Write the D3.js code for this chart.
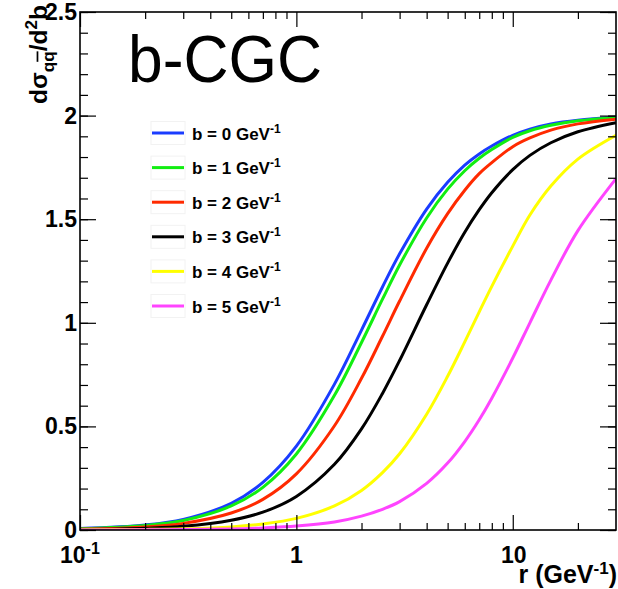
<!DOCTYPE html>
<html>
<head>
<meta charset="utf-8">
<script src="https://cdn.jsdelivr.net/npm/d3@7"></script>
<style>
  html, body { margin: 0; padding: 0; background: #fff; }
  svg { display: block; font-family: "Liberation Sans", Arial, Helvetica, sans-serif; }
</style>
</head>
<body>
<svg id="chart" width="618" height="589"></svg>
<script>
// ---- data ----
const rValues = [0.1, 0.2, 0.3, 0.5, 0.7, 1, 1.5, 2, 2.5, 3, 4, 5, 6, 7, 8, 10, 12, 15, 20, 30];
const bLabels = ["0", "1", "2", "3", "4", "5"];
const b0 = [0.007, 0.024, 0.051, 0.129, 0.230, 0.405, 0.704, 0.965, 1.173, 1.333, 1.549, 1.678, 1.761, 1.815, 1.853, 1.905, 1.935, 1.960, 1.978, 1.992];
const b1 = [0.006, 0.022, 0.046, 0.116, 0.206, 0.367, 0.650, 0.905, 1.114, 1.279, 1.506, 1.645, 1.734, 1.794, 1.836, 1.895, 1.927, 1.953, 1.975, 1.990];
const b2 = [0.004, 0.015, 0.032, 0.082, 0.148, 0.271, 0.503, 0.732, 0.935, 1.105, 1.360, 1.527, 1.640, 1.720, 1.773, 1.850, 1.892, 1.930, 1.960, 1.983];
const b3 = [0.002, 0.009, 0.018, 0.047, 0.086, 0.162, 0.317, 0.488, 0.659, 0.818, 1.087, 1.288, 1.437, 1.546, 1.628, 1.739, 1.808, 1.869, 1.922, 1.966];
const b4 = [0.001, 0.003, 0.006, 0.015, 0.029, 0.056, 0.116, 0.191, 0.277, 0.368, 0.559, 0.742, 0.908, 1.053, 1.176, 1.370, 1.520, 1.660, 1.790, 1.905];
const b5 = [0.000, 0.001, 0.002, 0.005, 0.010, 0.019, 0.039, 0.067, 0.100, 0.137, 0.225, 0.323, 0.427, 0.532, 0.636, 0.830, 1.000, 1.206, 1.445, 1.696];
const seriesValues = [b0, b1, b2, b3, b4, b5];
const seriesColors = ["#1a3cff", "#11ee11", "#ff2a00", "#000000", "#ffff00", "#ff44ff"];

const yMajorTicks = [0, 0.5, 1, 1.5, 2, 2.5];
const yTickLabels = ["0", "0.5", "1", "1.5", "2", "2.5"];
const xMajorTicks = [0.1, 1, 10];
const xMinorTicks = [0.2, 0.3, 0.4, 0.5, 0.6, 0.7, 0.8, 0.9, 2, 3, 4, 5, 6, 7, 8, 9, 20];
const yMinorTicks = d3.range(0, 26).map(i => i / 10);

// ---- layout ----
const L = 80, R = 616, T = 12, B = 530;
const svg = d3.select("#chart");

const x = d3.scaleLog().domain([0.1, 30]).range([L, R]);
const y = d3.scaleLinear().domain([0, 2.5]).range([B, T]);

// clip
svg.append("defs").append("clipPath").attr("id", "plotclip")
  .append("rect").attr("x", L).attr("y", T).attr("width", R - L).attr("height", B - T);

// curves
const line = d3.line()
  .x(d => x(d[0]))
  .y(d => y(d[1]))
  .curve(d3.curveCatmullRom.alpha(0.5));

const gCurves = svg.append("g").attr("clip-path", "url(#plotclip)");
seriesValues.forEach((vals, i) => {
  gCurves.append("path")
    .datum(rValues.map((r, k) => [r, vals[k]]))
    .attr("d", line)
    .attr("fill", "none")
    .attr("stroke", seriesColors[i])
    .attr("stroke-width", 3);
});

// axes helper
function styleAxis(g) {
  g.select(".domain").remove();
  g.selectAll("line").attr("stroke", "#000").attr("stroke-width", 1.2);
  g.selectAll("text").remove();
}

// bottom
svg.append("g").attr("transform", `translate(0,${B})`)
  .call(d3.axisBottom(x).tickValues(xMinorTicks).tickSize(-7).tickFormat(""))
  .call(styleAxis);
svg.append("g").attr("transform", `translate(0,${B})`)
  .call(d3.axisBottom(x).tickValues(xMajorTicks).tickSize(-15).tickFormat(""))
  .call(styleAxis);
// top
svg.append("g").attr("transform", `translate(0,${T})`)
  .call(d3.axisTop(x).tickValues(xMinorTicks).tickSize(-7).tickFormat(""))
  .call(styleAxis);
svg.append("g").attr("transform", `translate(0,${T})`)
  .call(d3.axisTop(x).tickValues(xMajorTicks).tickSize(-15).tickFormat(""))
  .call(styleAxis);
// left
svg.append("g").attr("transform", `translate(${L},0)`)
  .call(d3.axisLeft(y).tickValues(yMinorTicks).tickSize(-8).tickFormat(""))
  .call(styleAxis);
svg.append("g").attr("transform", `translate(${L},0)`)
  .call(d3.axisLeft(y).tickValues(yMajorTicks).tickSize(-16).tickFormat(""))
  .call(styleAxis);
// right
svg.append("g").attr("transform", `translate(${R},0)`)
  .call(d3.axisRight(y).tickValues(yMinorTicks).tickSize(-8).tickFormat(""))
  .call(styleAxis);
svg.append("g").attr("transform", `translate(${R},0)`)
  .call(d3.axisRight(y).tickValues(yMajorTicks).tickSize(-16).tickFormat(""))
  .call(styleAxis);

// frame
svg.append("rect").attr("x", L).attr("y", T).attr("width", R - L).attr("height", B - T)
  .attr("fill", "none").attr("stroke", "#000").attr("stroke-width", 1.6);

// y tick labels
svg.append("g").selectAll("text").data(yMajorTicks).join("text")
  .attr("x", 77).attr("y", d => y(d) + 8)
  .attr("text-anchor", "end")
  .attr("font-size", 23).attr("font-weight", "bold")
  .text((d, i) => yTickLabels[i]);

// x tick labels
const xl = svg.append("g").attr("font-size", 23).attr("font-weight", "bold");
const t01 = xl.append("text").attr("x", x(0.1) - 20).attr("y", 563);
t01.append("tspan").text("10");
t01.append("tspan").attr("dy", -9).attr("font-size", 16).text("-1");
xl.append("text").attr("x", x(1)).attr("y", 563).attr("text-anchor", "middle").text("1");
xl.append("text").attr("x", x(10) + 1).attr("y", 563).attr("text-anchor", "middle").text("10");

// x title
const xt = svg.append("text").attr("x", 617).attr("y", 583).attr("text-anchor", "end")
  .attr("font-size", 25).attr("font-weight", "bold");
xt.append("tspan").text("r (GeV");
xt.append("tspan").attr("dy", -9).attr("font-size", 17).text("-1");
xt.append("tspan").attr("dy", 9).text(")");

// y title
function buildYTitle(fs) {
  const sub = fs * 0.7;
  const t = svg.append("text").attr("transform", "translate(47,104) rotate(-90)")
    .attr("font-size", fs).attr("font-weight", "bold");
  t.append("tspan").text("dσ");
  t.append("tspan").attr("dy", fs * 0.27).attr("font-size", sub).text("q");
  t.append("tspan").attr("font-size", sub).attr("text-decoration", "overline").text("q");
  t.append("tspan").attr("dy", -fs * 0.27).text("/d");
  t.append("tspan").attr("dy", -fs * 0.42).attr("font-size", sub).text("2");
  t.append("tspan").attr("dy", fs * 0.42).text("b");
  return t;
}
let yt = buildYTitle(23);
const ylen = yt.node().getComputedTextLength();
if (ylen > 0 && Math.abs(ylen - 99) > 2) {
  const fs2 = 23 * 99 / ylen;
  yt.remove();
  yt = buildYTitle(fs2);
}

// big label
svg.append("text").attr("x", 128).attr("y", 82)
  .attr("font-size", 66)
  .attr("textLength", 194).attr("lengthAdjust", "spacingAndGlyphs")
  .text("b-CGC");

// legend
const legY0 = 133, legDy = 34.6;
const leg = svg.append("g");
bLabels.forEach((b, i) => {
  const cy = legY0 + i * legDy;
  leg.append("rect").attr("x", 151).attr("y", cy - 11.5).attr("width", 34).attr("height", 23)
    .attr("fill", "none").attr("stroke", "#f2f2f2").attr("stroke-width", 1);
  leg.append("line").attr("x1", 152).attr("x2", 184).attr("y1", cy).attr("y2", cy)
    .attr("stroke", seriesColors[i]).attr("stroke-width", 3);
  const t = leg.append("text").attr("x", 192).attr("y", cy + 6.5)
    .attr("font-size", 17).attr("font-weight", "bold");
  t.append("tspan").text(`b = ${b} GeV`);
  t.append("tspan").attr("dy", -7).attr("font-size", 12).text("-1");
});
</script>
</body>
</html>
